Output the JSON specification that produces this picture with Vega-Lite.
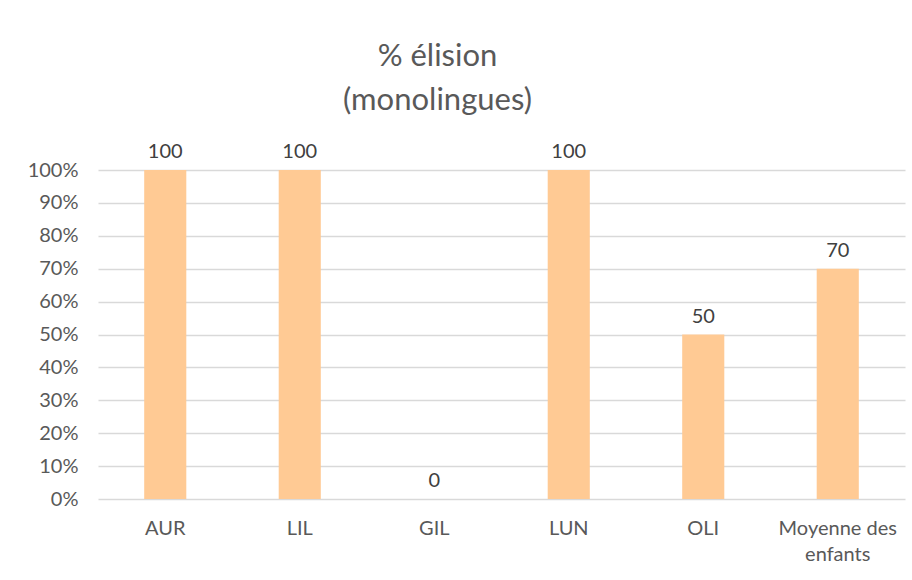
{
  "$schema": "https://vega.github.io/schema/vega-lite/v6.json",
  "width": 807,
  "height": 329,
  "autosize": {"type": "none"},
  "padding": {"left": 98, "top": 170, "right": 7, "bottom": 81},
  "background": "white",
  "title": {
    "text": ["% élision", "(monolingues)"],
    "fontSize": 31,
    "font": "Lato",
    "fontWeight": "normal",
    "color": "#595959",
    "anchor": "middle",
    "dx": -64,
    "offset": 25,
    "lineHeight": 44
  },
  "data": {
    "values": [
      {"enfant": "AUR", "elision": 100},
      {"enfant": "LIL", "elision": 100},
      {"enfant": "GIL", "elision": 0},
      {"enfant": "LUN", "elision": 100},
      {"enfant": "OLI", "elision": 50},
      {"enfant": "Moyenne des enfants", "elision": 70}
    ]
  },
  "encoding": {
    "x": {
      "field": "enfant",
      "type": "nominal",
      "sort": null,
      "scale": {"paddingInner": 0.687, "paddingOuter": 0.3435},
      "axis": {
        "title": null,
        "labelAngle": 0,
        "ticks": false,
        "domain": false,
        "labelPadding": 19,
        "labelFont": "Lato",
        "labelFontSize": 20,
        "labelColor": "#595959",
        "labelLineHeight": 26,
        "labelExpr": "datum.label == 'Moyenne des enfants' ? ['Moyenne des', 'enfants'] : datum.label"
      }
    },
    "y": {
      "field": "elision",
      "type": "quantitative",
      "scale": {"domain": [0, 100], "nice": false},
      "axis": {
        "title": null,
        "values": [0, 10, 20, 30, 40, 50, 60, 70, 80, 90, 100],
        "labelExpr": "datum.value + '%'",
        "ticks": false,
        "domain": false,
        "labelPadding": 20,
        "labelFont": "Lato",
        "labelFontSize": 20,
        "labelColor": "#595959",
        "gridColor": "#D9D9D9",
        "gridWidth": 1.3
      }
    }
  },
  "layer": [
    {"mark": {"type": "bar", "color": "#FFCA94"}},
    {
      "mark": {
        "type": "text",
        "baseline": "alphabetic",
        "dy": -12,
        "font": "Lato",
        "fontSize": 20,
        "color": "#404040"
      },
      "encoding": {"text": {"field": "elision", "type": "quantitative"}}
    }
  ],
  "config": {"view": {"stroke": null}}
}
